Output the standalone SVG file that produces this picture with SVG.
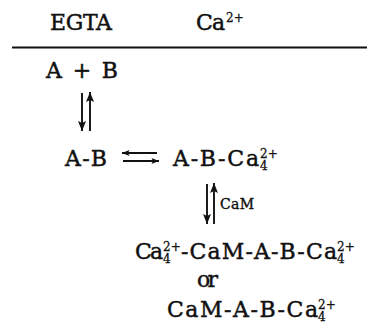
<svg xmlns="http://www.w3.org/2000/svg" width="367" height="332" viewBox="0 0 367 332">
<defs>
<style>
.t{font-family:"DejaVu Serif","Liberation Serif",serif;font-size:22px;fill:#111;stroke:#111;stroke-width:0.45;}
.s{font-family:"DejaVu Serif","Liberation Serif",serif;font-size:12px;fill:#111;stroke:#111;stroke-width:0.3;}
.lb{font-family:"DejaVu Serif","Liberation Serif",serif;font-size:14px;fill:#111;stroke:#111;stroke-width:0.4;}
.ar{stroke:#111;stroke-width:1.9;fill:none;}
.v{marker-end:url(#ah);}
.h{marker-end:url(#ahs);}
</style>
<marker id="ah" viewBox="0 0 10 8" refX="10" refY="4" markerWidth="10" markerHeight="8" markerUnits="userSpaceOnUse" orient="auto"><path d="M0,0 L10,4 L0,8 L2,4 z" fill="#111"/></marker>
<marker id="ahs" viewBox="0 0 10 8" refX="10" refY="4" markerWidth="8" markerHeight="6" markerUnits="userSpaceOnUse" orient="auto"><path d="M0,0 L10,4 L0,8 L2,4 z" fill="#111"/></marker>
</defs>
<rect width="367" height="332" fill="#fff"/>

<g id="header">
<text class="t" x="50" y="30" textLength="62">EGTA</text>
<text class="t" x="196" y="30" textLength="29">Ca</text>
<text class="s" x="226" y="22">2+</text>
</g>
<g id="rule"><line x1="12" y1="47.5" x2="367" y2="47.5" stroke="#111" stroke-width="2"/></g>

<g id="n-A-plus-B">
<text class="t" x="46" y="78" textLength="72">A + B</text>
</g>

<g id="n-AB">
<text class="t" x="65" y="166" textLength="42">A-B</text>
</g>

<g id="n-AB-Ca">
<text class="t" x="173" y="166" textLength="86">A-B-Ca</text>
<text class="s"><tspan x="260" y="158">2+</tspan><tspan x="260" y="169.5">4</tspan></text>
</g>

<g id="n-products">
<text class="t" x="135" y="259" textLength="28">Ca</text>
<text class="s"><tspan x="163" y="251">2+</tspan><tspan x="163" y="262.5">4</tspan></text>
<text class="t" x="181" y="259" textLength="156">-CaM-A-B-Ca</text>
<text class="s"><tspan x="337" y="251">2+</tspan><tspan x="337" y="262.5">4</tspan></text>
<text class="t" x="197" y="287" textLength="21">or</text>
<text class="t" x="167" y="317" textLength="151">CaM-A-B-Ca</text>
<text class="s"><tspan x="318" y="309">2+</tspan><tspan x="318" y="320.5">4</tspan></text>
</g>

<g id="connectors">
<line class="ar v" x1="82" y1="93" x2="82" y2="131"/>
<line class="ar v" x1="90" y1="131" x2="90" y2="92"/>
<line class="ar h" x1="157" y1="153" x2="122" y2="153"/>
<line class="ar h" x1="123" y1="161" x2="159" y2="161"/>
<line class="ar v" x1="207" y1="184" x2="207" y2="224"/>
<line class="ar v" x1="214" y1="224" x2="214" y2="183"/>
<text class="lb" x="220" y="209" textLength="34">CaM</text>
</g>
</svg>
